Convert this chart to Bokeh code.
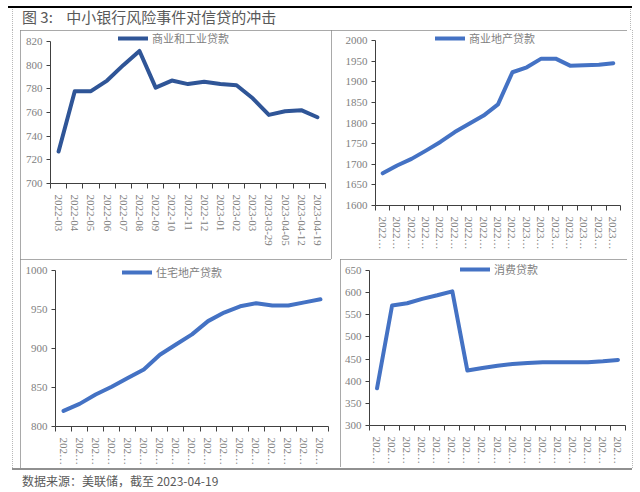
from bokeh.plotting import figure
from bokeh.models import Range1d, FixedTicker, Legend, LegendItem, Div
from bokeh.layouts import column, row
from bokeh.embed import file_html
from bokeh.resources import INLINE

# ---- data ----
dates = ["2022-03", "2022-04", "2022-05", "2022-06", "2022-07", "2022-08", "2022-09",
         "2022-10", "2022-11", "2022-12", "2023-01", "2023-02", "2023-03",
         "2023-03-29", "2023-04-05", "2023-04-12", "2023-04-19"]
ci_loans = [727, 778, 778, 787, 800, 812, 781, 787, 784, 786, 784, 783, 772, 758, 761, 762, 756]
cre_loans = [1678, 1697, 1713, 1733, 1754, 1778, 1798, 1818, 1845, 1923, 1935, 1956, 1956,
             1939, 1940, 1941, 1945]
res_loans = [820, 829, 841, 851, 862, 873, 892, 905, 918, 935, 946, 954, 958, 955, 955, 959, 963]
consumer_loans = [384, 571, 576, 586, 594, 603, 424, 430, 435, 439, 441, 443, 443, 443, 443, 445, 448]

labels_full = dates
labels_4 = [d[:4] + "…" for d in dates]
labels_3 = [d[:3] + "…" for d in dates]

title_text = "图 3:&nbsp;&nbsp;&nbsp;&nbsp;中小银行风险事件对信贷的冲击"
source_text = "数据来源：美联储，截至 2023-04-19"

TICK_FONT = "Liberation Serif"
CJK_FONT = "Noto Sans CJK SC"
GRAY = "#808080"
AXIS = "#404040"
DOT = "1px dotted #b8b8b8"


def make_panel(width, height, ml, mr, mb, axis_top_gap, ymin, ymax, ystep, values, color,
               name, xlabels, lx, ly):
    """axis_top_gap: pixels between frame top and the top tick of the y axis."""
    n = len(values)
    mt = 1
    frame_h = height - mt - mb
    axis_h = frame_h - axis_top_gap
    yend = ymax + axis_top_gap * (ymax - ymin) / axis_h
    p = figure(width=width, height=height, x_range=Range1d(0, n), y_range=Range1d(ymin, yend),
               output_backend="svg", toolbar_location=None,
               min_border_left=ml, min_border_right=mr, min_border_top=mt, min_border_bottom=mb,
               styles={"outline": "1px solid #8c8c8c", "outline-offset": "-1px"})
    p.grid.visible = False
    p.outline_line_color = None
    p.background_fill_color = "white"
    p.border_fill_color = "white"

    xs = [i + 0.5 for i in range(n)]
    r = p.line(xs, values, line_color=color, line_width=4, line_join="round", line_cap="round")

    xa = p.xaxis[0]
    xa.ticker = FixedTicker(ticks=xs, minor_ticks=list(range(n + 1)))
    xa.major_label_overrides = {x: lab for x, lab in zip(xs, xlabels)}
    xa.major_label_orientation = "vertical"
    xa.major_tick_in = 0
    xa.major_tick_out = 0
    xa.minor_tick_in = 0
    xa.minor_tick_out = 5
    xa.minor_tick_line_color = AXIS
    xa.axis_line_color = AXIS
    xa.major_label_text_font = TICK_FONT
    xa.major_label_text_font_size = "11px"
    xa.major_label_text_color = GRAY
    xa.major_label_standoff = 6

    ya = p.yaxis[0]
    ya.ticker = FixedTicker(ticks=list(range(ymin, ymax + 1, ystep)))
    ya.bounds = (ymin, ymax)
    ya.major_tick_in = 0
    ya.major_tick_out = 4
    ya.minor_tick_line_color = None
    ya.major_tick_line_color = AXIS
    ya.axis_line_color = AXIS
    ya.major_label_text_font = TICK_FONT
    ya.major_label_text_font_size = "11px"
    ya.major_label_text_color = GRAY
    ya.major_label_standoff = 4

    leg = Legend(items=[LegendItem(label=name, renderers=[r])], location=(lx, ly),
                 padding=0, margin=0, spacing=0, glyph_width=30, glyph_height=12,
                 label_height=12, label_standoff=4,
                 label_text_font=CJK_FONT, label_text_font_size="11px",
                 label_text_color=GRAY, background_fill_alpha=0, border_line_alpha=0)
    p.add_layout(leg)
    return p


def strip(width, height, left):
    st = f"position:absolute;left:{left}px;top:0;height:{height}px;border-left:{DOT};"
    return Div(text=f'<div style="{st}"></div>', width=width, height=height, margin=0,
               styles={"position": "relative", "overflow": "hidden"})


# panel geometry (pixels): width, height, left border, right border, bottom border, gap
p1 = make_panel(311, 229, 30, 6, 76, 10, 700, 820, 20, ci_loans, "#2F5597",
                "商业和工业贷款", labels_full, 68, 137)
p2 = make_panel(296, 229, 44, 7, 54, 9, 1600, 2000, 50, cre_loans, "#4472C4",
                "商业地产贷款", labels_4, 60, 159)
p3 = make_panel(311, 209, 35, 3, 40, 10, 800, 1000, 50, res_loans, "#4472C4",
                "住宅地产贷款", labels_3, 67, 146)
p4 = make_panel(287, 208, 29, 2, 42, 10, 300, 650, 50, consumer_loans, "#4472C4",
                "消费贷款", labels_3, 91, 148)

title = Div(text=f'<div style="position:absolute;left:8px;top:6px;width:624px;height:24px;'
                 f'border-top:2px solid #000;"></div>'
                 f'<div style="position:absolute;left:12px;top:9px;width:619px;height:21px;'
                 f'border-left:{DOT};border-right:{DOT};"></div>'
                 f'<div style="position:absolute;left:22px;top:8px;font-family:\'{CJK_FONT}\';'
                 f'font-size:15px;color:#595959;line-height:18px;white-space:nowrap;">'
                 f'{title_text}</div>',
            width=640, height=30, margin=0,
            styles={"position": "relative", "overflow": "hidden"})
footer = Div(text=f'<div style="position:absolute;left:12px;top:0px;width:620px;'
                  f'border-top:2px solid #909090;"></div>'
                  f'<div style="position:absolute;left:22px;top:5px;font-family:\'{CJK_FONT}\';'
                  f'font-size:12px;color:#595959;line-height:16px;white-space:nowrap;">'
                  f'{source_text}</div>',
             width=640, height=24, margin=0,
             styles={"position": "relative", "overflow": "hidden"})

layout = column(
    title,
    row(strip(20, 229, 12), column(p1), column(p2), strip(13, 229, 5), spacing=0),
    row(strip(20, 209, 12), column(p3), Div(width=9, height=208, margin=0), column(p4),
        strip(13, 209, 5), spacing=0),
    footer,
    spacing=0,
)

open("out.html", "w").write(file_html(layout, INLINE))
